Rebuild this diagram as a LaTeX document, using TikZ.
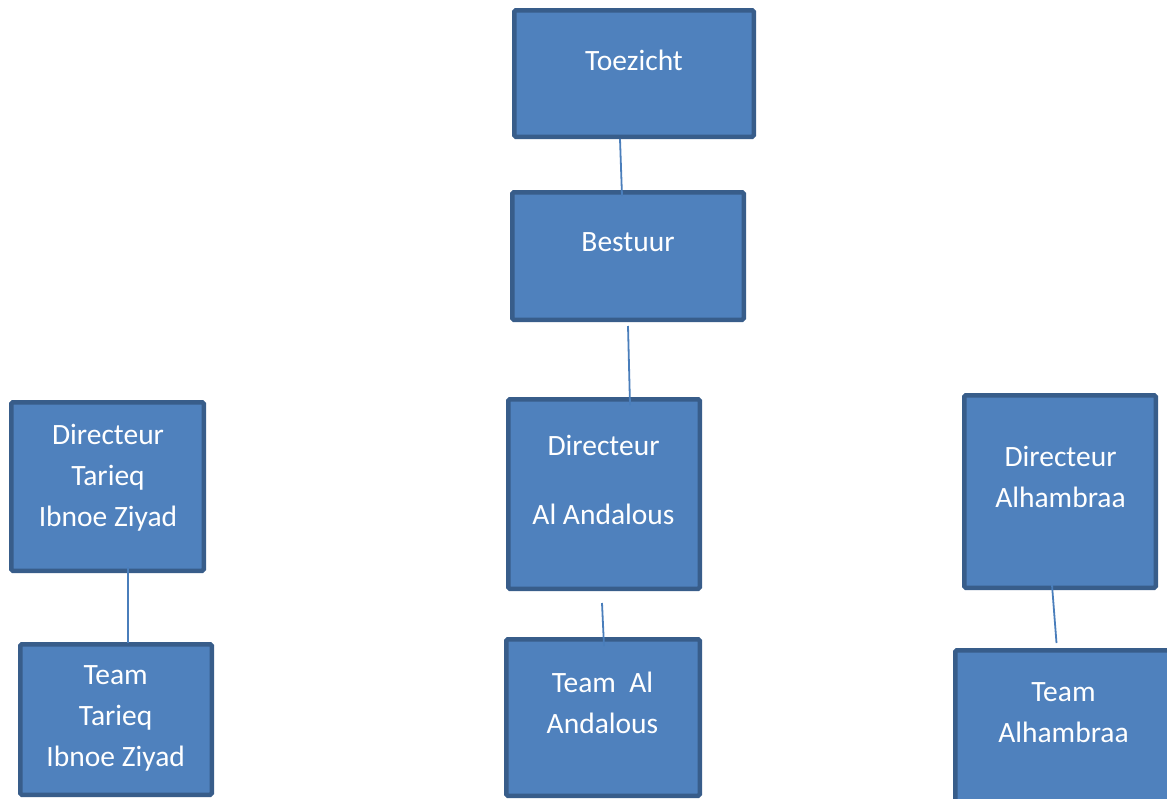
\documentclass[tikz,border=0pt]{standalone}
\usepackage{fontspec}
\setmainfont{Carlito}
\usetikzlibrary{calc}
\definecolor{boxfill}{HTML}{4F81BD}
\definecolor{boxline}{HTML}{385D8A}
\definecolor{conn}{HTML}{4A7EBB}
\begin{document}
\begin{tikzpicture}[x=1pt,y=-1pt,
  box/.style={draw=boxline, fill=boxfill, line width=4.5pt, rounded corners=1.5pt, rectangle, inner sep=0pt},
  txt/.style={text=white, font=\fontsize{29.5}{41}\selectfont, align=center, anchor=north, inner sep=0pt, execute at begin node=\strut},
  link/.style={draw=conn, line width=1.8pt}]
\useasboundingbox (0,0) rectangle (1167,798);
\clip (0,0) rectangle (1167,798);
\fill[white] (0,0) rectangle (1167,798);
% boxes
\node[box, minimum width=239.5pt, minimum height=126.5pt] (toez) at (634,73.5) {};
\node[box, minimum width=231.5pt, minimum height=127.5pt] (best) at (628,256) {};
\node[box, minimum width=192.5pt, minimum height=168.5pt] (dirT) at (107.5,486.5) {};
\node[box, minimum width=191.5pt, minimum height=150.5pt] (teamT) at (116,719.5) {};
\node[box, minimum width=191.5pt, minimum height=189.5pt] (dirA) at (604,494) {};
\node[box, minimum width=193.5pt, minimum height=156.5pt] (teamA) at (603,717.5) {};
\node[box, minimum width=191.5pt, minimum height=192.5pt] (dirH) at (1060,491.5) {};
\node[box, minimum width=217.5pt, minimum height=157.5pt] (teamH) at (1064,729) {};
% texts
\node[txt] (toezT) at (634,41.5) {Toezicht};
\node[txt] (bestT) at (628,223) {Bestuur};
\node[txt] (dirTT) at (108,423.5) {Directeur\\Tarieq\\Ibnoe Ziyad};
\node[txt] (teamTT) at (115.7,665.3) {Team\\Tarieq\\Ibnoe Ziyad};
\node[txt] (dirAT) at (603.5,435.3) {Directeur\\[28pt]Al Andalous};
\node[txt] (teamAT) at (602.5,672) {Team\ \ Al\\Andalous};
\node[txt] (dirHT) at (1060.5,445.5) {Directeur\\Alhambraa};
\node[txt] (teamHT) at (1063.5,682) {Team\\Alhambraa};
% connectors
\draw[link] ($(toez.south)+(-14,0)$) -- ($(best.north)+(-6,6)$);
\draw[link] ($(best.south)+(0,4)$) -- ($(dirA.north)+(26,8)$);
\draw[link] ($(dirT.south)+(20.5,-6)$) -- ($(teamT.north)+(12,1)$);
\draw[link] ($(dirA.south)+(-2,12)$) -- ($(teamA.north)+(1,9)$);
\draw[link] ($(dirH.south)+(-8,-5)$) -- ($(teamH.north)+(-7.5,-5)$);
\end{tikzpicture}
\end{document}
